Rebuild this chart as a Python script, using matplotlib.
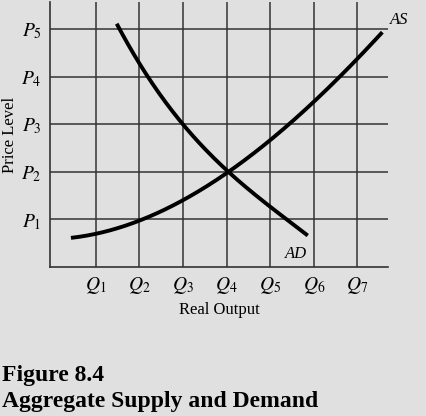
import matplotlib
matplotlib.use("Agg")
import matplotlib.pyplot as plt
import numpy as np

plt.rcParams['font.family'] = ['Liberation Serif', 'DejaVu Serif']
plt.rcParams['mathtext.fontset'] = 'stix'

q_labels = [f"$Q_{i}$" for i in range(1, 8)]
p_labels = [f"$P_{i}$" for i in range(1, 6)]
as_x = [0.43, 1.0, 2.0, 3.0, 4.0, 5.0, 6.0, 7.0, 7.57]
as_y = [0.63, 0.67, 0.98, 1.4, 2.0, 2.66, 3.45, 4.4, 4.93]
ad_x = [1.48, 2.0, 3.0, 4.0, 5.0, 5.86]
ad_y = [5.1, 4.3, 3.0, 2.0, 1.3, 0.65]

bg = '#e0e0e0'
fig = plt.figure(figsize=(4.27, 4.16), dpi=100, facecolor=bg)
ax = fig.add_axes([50/427, 1-267/416, 338/427, 265/416], facecolor=bg)
ax.set_xlim(-0.05, 7.7)
ax.set_ylim(0, 5.57)

for i in range(1, 8):
    ax.axvline(i, color='#333333', lw=1.1)
for i in range(1, 6):
    ax.axhline(i, color='#333333', lw=1.1)

def smooth(x, y):
    xs = np.linspace(x[0], x[-1], 200)
    c = np.polyfit(x, y, 3)
    return xs, np.polyval(c, xs)

xs, ys = smooth(as_x, as_y)
ax.plot(xs, ys, color='black', lw=2.8, solid_capstyle='butt')
xs, ys = smooth(ad_x, ad_y)
ax.plot(xs, ys, color='black', lw=2.8, solid_capstyle='butt')

ax.text(7.95, 5.2, 'AS', style='italic', fontsize=12, ha='center', va='center', clip_on=False)
ax.text(5.6, 0.27, 'AD', style='italic', fontsize=12, ha='center', va='center')

for s in ['top', 'right']:
    ax.spines[s].set_visible(False)
for s in ['left', 'bottom']:
    ax.spines[s].set_color('#333333')
    ax.spines[s].set_linewidth(1.2)
ax.set_xticks(range(1, 8))
ax.set_xticklabels(q_labels, fontsize=14)
ax.set_yticks(range(1, 6))
ax.set_yticklabels(p_labels, fontsize=14)
ax.tick_params(length=0, pad=6)
ax.set_xlabel('Real Output', fontsize=12, labelpad=4)
ax.set_ylabel('Price Level', fontsize=12, labelpad=2)

fig.text(2/427, 1-375/416, 'Figure 8.4', fontsize=17, weight='bold', va='center')
fig.text(2/427, 1-401/416, 'Aggregate Supply and Demand', fontsize=17, weight='bold', va='center')
fig.savefig('out.png', dpi=100, facecolor=bg)
